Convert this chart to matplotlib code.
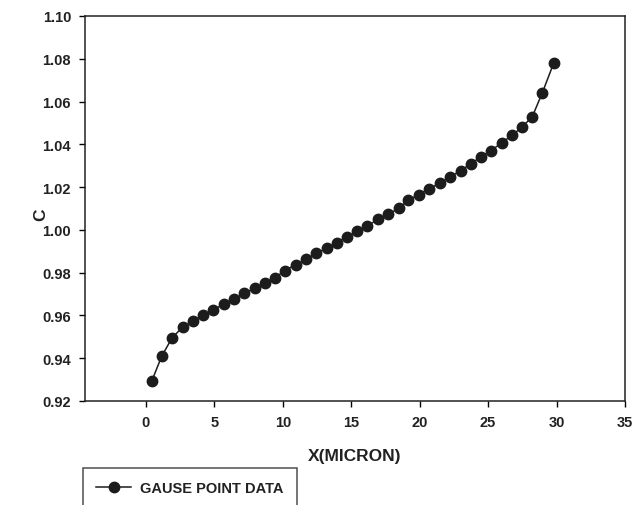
import matplotlib.pyplot as plt
import numpy as np

plt.rcParams['font.family'] = ['Liberation Sans', 'DejaVu Sans']

# Gauss point positions (micron) and concentration values
x_micron = [0.42, 1.15, 1.92, 2.68, 3.41, 4.14, 4.91, 5.69, 6.47, 7.20,
            7.96, 8.71, 9.42, 10.15, 10.93, 11.68, 12.46, 13.21, 13.96, 14.69,
            15.42, 16.18, 16.93, 17.72, 18.47, 19.15, 19.93, 20.71, 21.46, 22.24,
            23.01, 23.74, 24.47, 25.23, 26.00, 26.77, 27.50, 28.23, 28.96, 29.78]
c_values = [0.9292, 0.9409, 0.9496, 0.9545, 0.9573, 0.9600, 0.9625, 0.9653, 0.9678, 0.9703,
            0.9728, 0.9753, 0.9776, 0.9810, 0.9837, 0.9862, 0.9890, 0.9915, 0.9941, 0.9967,
            0.9993, 1.0018, 1.0049, 1.0073, 1.0101, 1.0138, 1.0165, 1.0193, 1.0218, 1.0249,
            1.0277, 1.0310, 1.0341, 1.0371, 1.0408, 1.0443, 1.0482, 1.0530, 1.0641, 1.0778]

x_ticks = [0, 5, 10, 15, 20, 25, 30, 35]
y_ticks = [0.92, 0.94, 0.96, 0.98, 1.00, 1.02, 1.04, 1.06, 1.08, 1.10]

fig = plt.figure(figsize=(6.38, 5.06), dpi=100)
ax = fig.add_axes([85 / 638, 1 - 402 / 506, 540 / 638, 385 / 506])

ax.plot(x_micron, c_values, color='#1c1c1c', lw=1.1, marker='o',
        markersize=7.5, markerfacecolor='#1c1c1c', markeredgecolor='#1c1c1c',
        label='GAUSE POINT DATA')

ax.set_xlim(-4.45, 35)
ax.set_ylim(0.92, 1.10)
ax.set_xticks(x_ticks)
ax.set_yticks(y_ticks)
ax.set_yticklabels([f'{v:.2f}' for v in y_ticks])
ax.tick_params(direction='out', length=4, width=1, labelsize=10.5,
               top=False, right=False, pad=6)
for lab in ax.get_xticklabels() + ax.get_yticklabels():
    lab.set_fontweight('bold')
    lab.set_color('#222222')
for sp in ax.spines.values():
    sp.set_linewidth(1.1)
    sp.set_color('#222222')

ax.set_xlabel('X(MICRON)', fontsize=12.5, fontweight='bold', color='#222222')
ax.xaxis.set_label_coords(0.5, -0.122)
ax.set_ylabel('C', fontsize=12.5, fontweight='bold', color='#222222')
ax.yaxis.set_label_coords(-0.068, 0.486)

leg = fig.legend(loc='upper left', bbox_to_anchor=(83 / 638, 1 - 469 / 506),
                 fontsize=10.5, fancybox=False, edgecolor='#222222',
                 borderpad=0.9, handlelength=2.4, handletextpad=0.6,
                 borderaxespad=0)
leg.get_frame().set_linewidth(1.1)
for t in leg.get_texts():
    t.set_fontweight('bold')
    t.set_color('#222222')

fig.savefig('out.png', dpi=100)
